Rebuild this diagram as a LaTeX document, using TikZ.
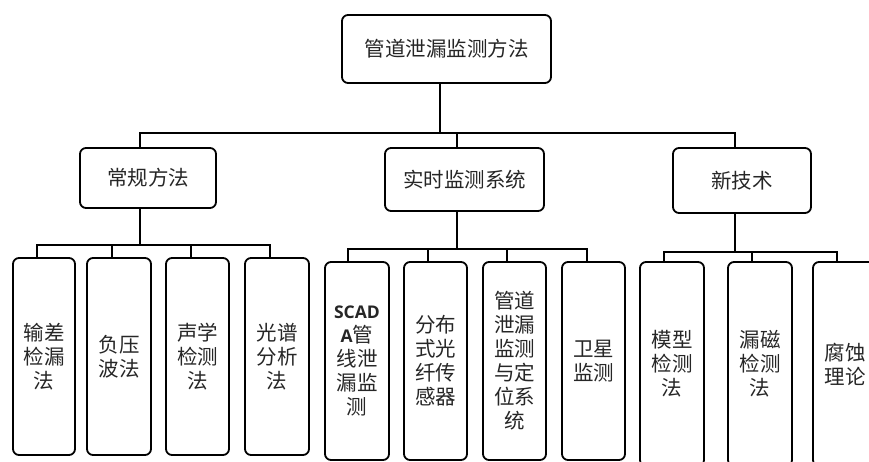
\documentclass[tikz,border=0pt]{standalone}
\usepackage{fontspec}
\setmainfont{Noto Sans CJK SC}
\newfontfamily\latinb{Open Sans}
\begin{document}
\begin{tikzpicture}[x=1pt,y=-1pt,
  box/.style={draw=black, line width=1.8pt, rounded corners=6pt, inner sep=0pt,
    align=center, text=black!85, font=\fontsize{20.5}{24}\selectfont},
  conn/.style={line width=1.8pt, draw=black}]
\useasboundingbox (0,0) rectangle (869,462);
\clip (0,0) rectangle (869,462);
% root
\node[box, minimum width=209pt, minimum height=68pt] (root) at (446.5,49) {管道泄漏监测方法};
% level 2
\node[box, minimum width=136pt, minimum height=60pt] (L1) at (148,178) {常规方法};
\node[box, minimum width=159pt, minimum height=63pt] (L2) at (464.5,179.5) {实时监测系统};
\node[box, minimum width=138pt, minimum height=65pt] (L3) at (742,180.5) {新技术};
% level 3, group 1
\node[box, minimum width=62pt, minimum height=197pt] (a1) at (44,356.5) {输差\\检漏\\法};
\node[box, minimum width=64pt, minimum height=197pt] (a2) at (119,356.5) {负压\\波法};
\node[box, minimum width=63pt, minimum height=197pt] (a3) at (197.5,356.5) {声学\\检测\\法};
\node[box, minimum width=64pt, minimum height=197pt] (a4) at (277,356.5) {光谱\\分析\\法};
% level 3, group 2
\node[box, minimum width=64pt, minimum height=198pt] (b1) at (357,361) {{\latinb\bfseries\fontsize{17.5}{24}\selectfont SCAD}\\{\latinb\bfseries\fontsize{17.5}{24}\selectfont A}管\\线泄\\漏监\\测};
\node[box, minimum width=63pt, minimum height=198pt] (b2) at (435.5,361) {分布\\式光\\纤传\\感器};
\node[box, minimum width=63pt, minimum height=198pt] (b3) at (514.5,361) {管道\\泄漏\\监测\\与定\\位系\\统};
\node[box, minimum width=63pt, minimum height=198pt] (b4) at (593.5,361) {卫星\\监测};
% level 3, group 3
\node[box, minimum width=64pt, minimum height=204pt] (c1) at (672,364) {模型\\检测\\法};
\node[box, minimum width=64pt, minimum height=204pt] (c2) at (760,364) {漏磁\\检测\\法};
\node[box, minimum width=64pt, minimum height=204pt] (c3) at (845,364) {腐蚀\\理论};
% connectors root -> level 2
\coordinate (bus0) at (440,133);
\draw[conn] ([xshift=-6.5pt]root.south) -- (bus0);
\draw[conn] (bus0) -| ([xshift=-8pt]L1.north);
\draw[conn] (bus0) -| ([xshift=-7.5pt]L2.north);
\draw[conn] (bus0) -| ([xshift=-7pt]L3.north);
% group 1
\coordinate (bus1) at (140,245);
\draw[conn] ([xshift=-8pt]L1.south) -- (bus1);
\draw[conn] (bus1) -| ([xshift=-7pt]a1.north);
\draw[conn] (bus1) -| ([xshift=-7pt]a2.north);
\draw[conn] (bus1) -| ([xshift=-6.5pt]a3.north);
\draw[conn] (bus1) -| ([xshift=-7pt]a4.north);
% group 2
\coordinate (bus2) at (457,249);
\draw[conn] ([xshift=-7.5pt]L2.south) -- (bus2);
\draw[conn] (bus2) -| ([xshift=-9pt]b1.north);
\draw[conn] (bus2) -| ([xshift=-7.5pt]b2.north);
\draw[conn] (bus2) -| ([xshift=-7.5pt]b3.north);
\draw[conn] (bus2) -| ([xshift=-6.5pt]b4.north);
% group 3
\coordinate (bus3) at (735,252);
\draw[conn] ([xshift=-7pt]L3.south) -- (bus3);
\draw[conn] (bus3) -| ([xshift=-8pt]c1.north);
\draw[conn] (bus3) -| ([xshift=-8pt]c2.north);
\draw[conn] (bus3) -| ([xshift=-8pt]c3.north);
\end{tikzpicture}
\end{document}
